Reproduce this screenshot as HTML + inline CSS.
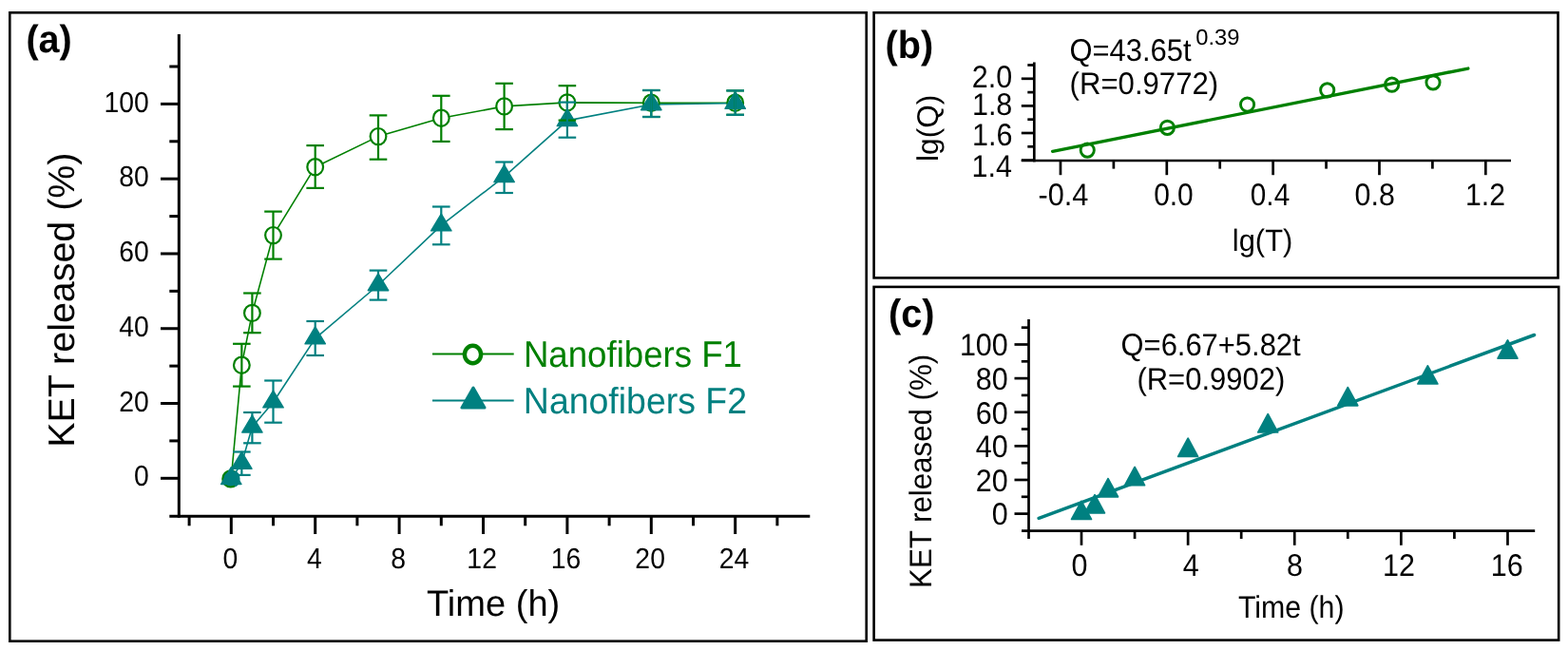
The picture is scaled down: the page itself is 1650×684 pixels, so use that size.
<!DOCTYPE html>
<html><head><meta charset="utf-8"><title>KET release figure</title>
<style>html,body{margin:0;padding:0;background:#fff;}svg{display:block;}</style>
</head><body>
<svg width="1650" height="684" viewBox="0 0 1650 684" font-family="&quot;Liberation Sans&quot;, Arial, Helvetica, sans-serif" text-rendering="geometricPrecision">
<rect x="0" y="0" width="1650" height="684" fill="#fff"/>
<rect x="10.30" y="13.30" width="901.40" height="661.40" fill="none" stroke="#000" stroke-width="2.6"/>
<rect x="919.60" y="13.30" width="719.90" height="279.10" fill="none" stroke="#000" stroke-width="2.6"/>
<rect x="919.60" y="301.90" width="720.60" height="371.70" fill="none" stroke="#000" stroke-width="2.6"/>
<line x1="188.30" y1="36.00" x2="188.30" y2="544.80" stroke="#000" stroke-width="3.0" stroke-linecap="butt"/>
<line x1="178.30" y1="543.30" x2="852.30" y2="543.30" stroke="#000" stroke-width="3.0" stroke-linecap="butt"/>
<line x1="169.00" y1="503.30" x2="188.30" y2="503.30" stroke="#000" stroke-width="3.0" stroke-linecap="butt"/>
<line x1="169.00" y1="424.52" x2="188.30" y2="424.52" stroke="#000" stroke-width="3.0" stroke-linecap="butt"/>
<line x1="169.00" y1="345.74" x2="188.30" y2="345.74" stroke="#000" stroke-width="3.0" stroke-linecap="butt"/>
<line x1="169.00" y1="266.96" x2="188.30" y2="266.96" stroke="#000" stroke-width="3.0" stroke-linecap="butt"/>
<line x1="169.00" y1="188.18" x2="188.30" y2="188.18" stroke="#000" stroke-width="3.0" stroke-linecap="butt"/>
<line x1="169.00" y1="109.40" x2="188.30" y2="109.40" stroke="#000" stroke-width="3.0" stroke-linecap="butt"/>
<line x1="178.30" y1="463.91" x2="188.30" y2="463.91" stroke="#000" stroke-width="3.0" stroke-linecap="butt"/>
<line x1="178.30" y1="385.13" x2="188.30" y2="385.13" stroke="#000" stroke-width="3.0" stroke-linecap="butt"/>
<line x1="178.30" y1="306.35" x2="188.30" y2="306.35" stroke="#000" stroke-width="3.0" stroke-linecap="butt"/>
<line x1="178.30" y1="227.57" x2="188.30" y2="227.57" stroke="#000" stroke-width="3.0" stroke-linecap="butt"/>
<line x1="178.30" y1="148.79" x2="188.30" y2="148.79" stroke="#000" stroke-width="3.0" stroke-linecap="butt"/>
<line x1="178.30" y1="70.01" x2="188.30" y2="70.01" stroke="#000" stroke-width="3.0" stroke-linecap="butt"/>
<line x1="243.30" y1="543.30" x2="243.30" y2="562.00" stroke="#000" stroke-width="3.0" stroke-linecap="butt"/>
<line x1="331.70" y1="543.30" x2="331.70" y2="562.00" stroke="#000" stroke-width="3.0" stroke-linecap="butt"/>
<line x1="420.10" y1="543.30" x2="420.10" y2="562.00" stroke="#000" stroke-width="3.0" stroke-linecap="butt"/>
<line x1="508.50" y1="543.30" x2="508.50" y2="562.00" stroke="#000" stroke-width="3.0" stroke-linecap="butt"/>
<line x1="596.90" y1="543.30" x2="596.90" y2="562.00" stroke="#000" stroke-width="3.0" stroke-linecap="butt"/>
<line x1="685.30" y1="543.30" x2="685.30" y2="562.00" stroke="#000" stroke-width="3.0" stroke-linecap="butt"/>
<line x1="773.70" y1="543.30" x2="773.70" y2="562.00" stroke="#000" stroke-width="3.0" stroke-linecap="butt"/>
<line x1="199.10" y1="543.30" x2="199.10" y2="553.30" stroke="#000" stroke-width="3.0" stroke-linecap="butt"/>
<line x1="287.50" y1="543.30" x2="287.50" y2="553.30" stroke="#000" stroke-width="3.0" stroke-linecap="butt"/>
<line x1="375.90" y1="543.30" x2="375.90" y2="553.30" stroke="#000" stroke-width="3.0" stroke-linecap="butt"/>
<line x1="464.30" y1="543.30" x2="464.30" y2="553.30" stroke="#000" stroke-width="3.0" stroke-linecap="butt"/>
<line x1="552.70" y1="543.30" x2="552.70" y2="553.30" stroke="#000" stroke-width="3.0" stroke-linecap="butt"/>
<line x1="641.10" y1="543.30" x2="641.10" y2="553.30" stroke="#000" stroke-width="3.0" stroke-linecap="butt"/>
<line x1="729.50" y1="543.30" x2="729.50" y2="553.30" stroke="#000" stroke-width="3.0" stroke-linecap="butt"/>
<line x1="817.90" y1="543.30" x2="817.90" y2="553.30" stroke="#000" stroke-width="3.0" stroke-linecap="butt"/>
<text transform="translate(140.93 511.45) scale(0.9330 1)" font-size="30.40" text-anchor="start" fill="#000">0</text>
<text transform="translate(125.16 432.67) scale(0.9330 1)" font-size="30.40" text-anchor="start" fill="#000">20</text>
<text transform="translate(125.16 353.89) scale(0.9330 1)" font-size="30.40" text-anchor="start" fill="#000">40</text>
<text transform="translate(125.16 275.11) scale(0.9330 1)" font-size="30.40" text-anchor="start" fill="#000">60</text>
<text transform="translate(125.16 196.33) scale(0.9330 1)" font-size="30.40" text-anchor="start" fill="#000">80</text>
<text transform="translate(109.39 117.55) scale(0.9330 1)" font-size="30.40" text-anchor="start" fill="#000">100</text>
<text transform="translate(234.41 597.60) scale(0.9330 1)" font-size="30.40" text-anchor="start" fill="#000">0</text>
<text transform="translate(322.90 597.60) scale(0.9330 1)" font-size="30.40" text-anchor="start" fill="#000">4</text>
<text transform="translate(411.21 597.60) scale(0.9330 1)" font-size="30.40" text-anchor="start" fill="#000">8</text>
<text transform="translate(491.36 597.60) scale(0.9330 1)" font-size="30.40" text-anchor="start" fill="#000">12</text>
<text transform="translate(579.67 597.60) scale(0.9330 1)" font-size="30.40" text-anchor="start" fill="#000">16</text>
<text transform="translate(668.37 597.60) scale(0.9330 1)" font-size="30.40" text-anchor="start" fill="#000">20</text>
<text transform="translate(756.63 597.60) scale(0.9330 1)" font-size="30.40" text-anchor="start" fill="#000">24</text>
<text transform="translate(448.94 648.10) scale(0.9889 1)" font-size="38.50" text-anchor="start" fill="#000">Time (h)</text>
<text transform="translate(77.85 470.73) rotate(-90) scale(1.0101 1)" font-size="39.00" text-anchor="start" fill="#000">KET released (%)</text>
<text transform="translate(27.43 55.30) scale(0.9742 1)" font-size="40.60" text-anchor="start" font-weight="bold" fill="#000">(a)</text>
<polyline fill="none" stroke="#008000" stroke-width="1.6" stroke-linejoin="round" points="243.30,503.30 254.35,384.20 265.40,329.40 287.50,247.60 331.70,175.70 398.00,143.60 464.30,124.20 530.60,111.90 596.90,107.90 685.30,108.20 773.70,108.20"/>
<polyline fill="none" stroke="#008080" stroke-width="1.6" stroke-linejoin="round" points="243.30,503.80 254.35,487.60 265.40,449.30 287.50,423.20 331.70,356.10 398.00,300.00 464.30,237.20 530.60,185.90 596.90,126.90 685.30,110.00 773.70,108.60"/>
<ellipse cx="242.70" cy="503.90" rx="8.35" ry="8.6" fill="#008080" stroke="#008000" stroke-width="2.2"/>
<path d="M246.90,496.40 A8.35,8.6 0 0 1 246.90,511.40" fill="none" stroke="#008080" stroke-width="2.8"/>
<ellipse cx="254.35" cy="384.20" rx="8.35" ry="8.6" fill="#fff" stroke="#008000" stroke-width="2.2"/>
<ellipse cx="265.40" cy="329.40" rx="8.35" ry="8.6" fill="#fff" stroke="#008000" stroke-width="2.2"/>
<ellipse cx="287.50" cy="247.60" rx="8.35" ry="8.6" fill="#fff" stroke="#008000" stroke-width="2.2"/>
<ellipse cx="331.70" cy="175.70" rx="8.35" ry="8.6" fill="#fff" stroke="#008000" stroke-width="2.2"/>
<ellipse cx="398.00" cy="143.60" rx="8.35" ry="8.6" fill="#fff" stroke="#008000" stroke-width="2.2"/>
<ellipse cx="464.30" cy="124.20" rx="8.35" ry="8.6" fill="#fff" stroke="#008000" stroke-width="2.2"/>
<ellipse cx="530.60" cy="111.90" rx="8.35" ry="8.6" fill="#fff" stroke="#008000" stroke-width="2.2"/>
<ellipse cx="596.90" cy="107.90" rx="8.35" ry="8.6" fill="#fff" stroke="#008000" stroke-width="2.2"/>
<ellipse cx="685.30" cy="108.20" rx="8.35" ry="8.6" fill="#fff" stroke="#008000" stroke-width="2.2"/>
<ellipse cx="773.70" cy="108.20" rx="8.35" ry="8.6" fill="#fff" stroke="#008000" stroke-width="2.2"/>
<polygon points="243.30,491.60 232.60,509.50 254.00,509.50" fill="#008080" stroke="#008080" stroke-width="1.4" stroke-linejoin="round"/>
<polygon points="254.35,475.40 243.65,493.30 265.05,493.30" fill="#008080" stroke="#008080" stroke-width="1.4" stroke-linejoin="round"/>
<polygon points="265.40,437.10 254.70,455.00 276.10,455.00" fill="#008080" stroke="#008080" stroke-width="1.4" stroke-linejoin="round"/>
<polygon points="287.50,411.00 276.80,428.90 298.20,428.90" fill="#008080" stroke="#008080" stroke-width="1.4" stroke-linejoin="round"/>
<polygon points="331.70,343.90 321.00,361.80 342.40,361.80" fill="#008080" stroke="#008080" stroke-width="1.4" stroke-linejoin="round"/>
<polygon points="398.00,287.80 387.30,305.70 408.70,305.70" fill="#008080" stroke="#008080" stroke-width="1.4" stroke-linejoin="round"/>
<polygon points="464.30,225.00 453.60,242.90 475.00,242.90" fill="#008080" stroke="#008080" stroke-width="1.4" stroke-linejoin="round"/>
<polygon points="530.60,173.70 519.90,191.60 541.30,191.60" fill="#008080" stroke="#008080" stroke-width="1.4" stroke-linejoin="round"/>
<polygon points="596.90,114.70 586.20,132.60 607.60,132.60" fill="#008080" stroke="#008080" stroke-width="1.4" stroke-linejoin="round"/>
<polygon points="685.30,97.80 674.60,115.70 696.00,115.70" fill="#008080" stroke="#008080" stroke-width="1.4" stroke-linejoin="round"/>
<polygon points="773.70,96.40 763.00,114.30 784.40,114.30" fill="#008080" stroke="#008080" stroke-width="1.4" stroke-linejoin="round"/>
<line x1="254.35" y1="361.80" x2="254.35" y2="406.60" stroke="#008000" stroke-width="2.2" stroke-linecap="butt"/>
<line x1="245.05" y1="361.80" x2="263.65" y2="361.80" stroke="#008000" stroke-width="2.2" stroke-linecap="butt"/>
<line x1="245.05" y1="406.60" x2="263.65" y2="406.60" stroke="#008000" stroke-width="2.2" stroke-linecap="butt"/>
<line x1="265.40" y1="308.50" x2="265.40" y2="350.20" stroke="#008000" stroke-width="2.2" stroke-linecap="butt"/>
<line x1="256.10" y1="308.50" x2="274.70" y2="308.50" stroke="#008000" stroke-width="2.2" stroke-linecap="butt"/>
<line x1="256.10" y1="350.20" x2="274.70" y2="350.20" stroke="#008000" stroke-width="2.2" stroke-linecap="butt"/>
<line x1="287.50" y1="222.60" x2="287.50" y2="272.60" stroke="#008000" stroke-width="2.2" stroke-linecap="butt"/>
<line x1="278.20" y1="222.60" x2="296.80" y2="222.60" stroke="#008000" stroke-width="2.2" stroke-linecap="butt"/>
<line x1="278.20" y1="272.60" x2="296.80" y2="272.60" stroke="#008000" stroke-width="2.2" stroke-linecap="butt"/>
<line x1="331.70" y1="153.10" x2="331.70" y2="197.90" stroke="#008000" stroke-width="2.2" stroke-linecap="butt"/>
<line x1="322.40" y1="153.10" x2="341.00" y2="153.10" stroke="#008000" stroke-width="2.2" stroke-linecap="butt"/>
<line x1="322.40" y1="197.90" x2="341.00" y2="197.90" stroke="#008000" stroke-width="2.2" stroke-linecap="butt"/>
<line x1="398.00" y1="121.40" x2="398.00" y2="167.70" stroke="#008000" stroke-width="2.2" stroke-linecap="butt"/>
<line x1="388.70" y1="121.40" x2="407.30" y2="121.40" stroke="#008000" stroke-width="2.2" stroke-linecap="butt"/>
<line x1="388.70" y1="167.70" x2="407.30" y2="167.70" stroke="#008000" stroke-width="2.2" stroke-linecap="butt"/>
<line x1="464.30" y1="100.80" x2="464.30" y2="148.90" stroke="#008000" stroke-width="2.2" stroke-linecap="butt"/>
<line x1="455.00" y1="100.80" x2="473.60" y2="100.80" stroke="#008000" stroke-width="2.2" stroke-linecap="butt"/>
<line x1="455.00" y1="148.90" x2="473.60" y2="148.90" stroke="#008000" stroke-width="2.2" stroke-linecap="butt"/>
<line x1="530.60" y1="87.80" x2="530.60" y2="136.10" stroke="#008000" stroke-width="2.2" stroke-linecap="butt"/>
<line x1="521.30" y1="87.80" x2="539.90" y2="87.80" stroke="#008000" stroke-width="2.2" stroke-linecap="butt"/>
<line x1="521.30" y1="136.10" x2="539.90" y2="136.10" stroke="#008000" stroke-width="2.2" stroke-linecap="butt"/>
<line x1="596.90" y1="90.20" x2="596.90" y2="126.60" stroke="#008000" stroke-width="2.2" stroke-linecap="butt"/>
<line x1="587.60" y1="90.20" x2="606.20" y2="90.20" stroke="#008000" stroke-width="2.2" stroke-linecap="butt"/>
<line x1="587.60" y1="126.60" x2="606.20" y2="126.60" stroke="#008000" stroke-width="2.2" stroke-linecap="butt"/>
<line x1="685.30" y1="95.00" x2="685.30" y2="123.00" stroke="#008000" stroke-width="2.2" stroke-linecap="butt"/>
<line x1="676.00" y1="95.00" x2="694.60" y2="95.00" stroke="#008000" stroke-width="2.2" stroke-linecap="butt"/>
<line x1="676.00" y1="123.00" x2="694.60" y2="123.00" stroke="#008000" stroke-width="2.2" stroke-linecap="butt"/>
<line x1="773.70" y1="95.40" x2="773.70" y2="120.80" stroke="#008000" stroke-width="2.2" stroke-linecap="butt"/>
<line x1="764.40" y1="95.40" x2="783.00" y2="95.40" stroke="#008000" stroke-width="2.2" stroke-linecap="butt"/>
<line x1="764.40" y1="120.80" x2="783.00" y2="120.80" stroke="#008000" stroke-width="2.2" stroke-linecap="butt"/>
<line x1="254.35" y1="475.50" x2="254.35" y2="499.90" stroke="#008080" stroke-width="2.2" stroke-linecap="butt"/>
<line x1="245.05" y1="475.50" x2="263.65" y2="475.50" stroke="#008080" stroke-width="2.2" stroke-linecap="butt"/>
<line x1="245.05" y1="499.90" x2="263.65" y2="499.90" stroke="#008080" stroke-width="2.2" stroke-linecap="butt"/>
<line x1="265.40" y1="434.00" x2="265.40" y2="466.30" stroke="#008080" stroke-width="2.2" stroke-linecap="butt"/>
<line x1="256.10" y1="434.00" x2="274.70" y2="434.00" stroke="#008080" stroke-width="2.2" stroke-linecap="butt"/>
<line x1="256.10" y1="466.30" x2="274.70" y2="466.30" stroke="#008080" stroke-width="2.2" stroke-linecap="butt"/>
<line x1="287.50" y1="400.50" x2="287.50" y2="444.70" stroke="#008080" stroke-width="2.2" stroke-linecap="butt"/>
<line x1="278.20" y1="400.50" x2="296.80" y2="400.50" stroke="#008080" stroke-width="2.2" stroke-linecap="butt"/>
<line x1="278.20" y1="444.70" x2="296.80" y2="444.70" stroke="#008080" stroke-width="2.2" stroke-linecap="butt"/>
<line x1="331.70" y1="338.00" x2="331.70" y2="374.00" stroke="#008080" stroke-width="2.2" stroke-linecap="butt"/>
<line x1="322.40" y1="338.00" x2="341.00" y2="338.00" stroke="#008080" stroke-width="2.2" stroke-linecap="butt"/>
<line x1="322.40" y1="374.00" x2="341.00" y2="374.00" stroke="#008080" stroke-width="2.2" stroke-linecap="butt"/>
<line x1="398.00" y1="284.60" x2="398.00" y2="315.60" stroke="#008080" stroke-width="2.2" stroke-linecap="butt"/>
<line x1="388.70" y1="284.60" x2="407.30" y2="284.60" stroke="#008080" stroke-width="2.2" stroke-linecap="butt"/>
<line x1="388.70" y1="315.60" x2="407.30" y2="315.60" stroke="#008080" stroke-width="2.2" stroke-linecap="butt"/>
<line x1="464.30" y1="217.50" x2="464.30" y2="257.30" stroke="#008080" stroke-width="2.2" stroke-linecap="butt"/>
<line x1="455.00" y1="217.50" x2="473.60" y2="217.50" stroke="#008080" stroke-width="2.2" stroke-linecap="butt"/>
<line x1="455.00" y1="257.30" x2="473.60" y2="257.30" stroke="#008080" stroke-width="2.2" stroke-linecap="butt"/>
<line x1="530.60" y1="170.50" x2="530.60" y2="203.00" stroke="#008080" stroke-width="2.2" stroke-linecap="butt"/>
<line x1="521.30" y1="170.50" x2="539.90" y2="170.50" stroke="#008080" stroke-width="2.2" stroke-linecap="butt"/>
<line x1="521.30" y1="203.00" x2="539.90" y2="203.00" stroke="#008080" stroke-width="2.2" stroke-linecap="butt"/>
<line x1="596.90" y1="107.60" x2="596.90" y2="144.70" stroke="#008080" stroke-width="2.2" stroke-linecap="butt"/>
<line x1="587.60" y1="107.60" x2="606.20" y2="107.60" stroke="#008080" stroke-width="2.2" stroke-linecap="butt"/>
<line x1="587.60" y1="144.70" x2="606.20" y2="144.70" stroke="#008080" stroke-width="2.2" stroke-linecap="butt"/>
<line x1="685.30" y1="95.00" x2="685.30" y2="123.00" stroke="#008080" stroke-width="2.2" stroke-linecap="butt"/>
<line x1="676.00" y1="95.00" x2="694.60" y2="95.00" stroke="#008080" stroke-width="2.2" stroke-linecap="butt"/>
<line x1="676.00" y1="123.00" x2="694.60" y2="123.00" stroke="#008080" stroke-width="2.2" stroke-linecap="butt"/>
<line x1="773.70" y1="95.40" x2="773.70" y2="120.80" stroke="#008080" stroke-width="2.2" stroke-linecap="butt"/>
<line x1="764.40" y1="95.40" x2="783.00" y2="95.40" stroke="#008080" stroke-width="2.2" stroke-linecap="butt"/>
<line x1="764.40" y1="120.80" x2="783.00" y2="120.80" stroke="#008080" stroke-width="2.2" stroke-linecap="butt"/>
<line x1="455.00" y1="372.40" x2="540.70" y2="372.40" stroke="#008000" stroke-width="2.0" stroke-linecap="butt"/>
<ellipse cx="497.50" cy="373.00" rx="8.6" ry="9.3" fill="#fff" stroke="#008000" stroke-width="4.4"/>
<line x1="455.00" y1="421.50" x2="540.70" y2="421.50" stroke="#008080" stroke-width="2.0" stroke-linecap="butt"/>
<polygon points="498.0,408.0 486.0,429.0 510.0,429.0" fill="#008080" stroke="#008080" stroke-width="3" stroke-linejoin="round"/>
<text transform="translate(550.89 386.05) scale(0.9442 1)" font-size="38.80" text-anchor="start" fill="#008000">Nanofibers F1</text>
<text transform="translate(550.83 434.75) scale(0.9654 1)" font-size="38.80" text-anchor="start" fill="#008080">Nanofibers F2</text>
<line x1="1088.30" y1="65.50" x2="1088.30" y2="170.35" stroke="#000" stroke-width="2.7" stroke-linecap="butt"/>
<line x1="1074.80" y1="169.00" x2="1590.00" y2="169.00" stroke="#000" stroke-width="2.7" stroke-linecap="butt"/>
<line x1="1074.80" y1="168.60" x2="1088.30" y2="168.60" stroke="#000" stroke-width="2.7" stroke-linecap="butt"/>
<line x1="1074.80" y1="140.00" x2="1088.30" y2="140.00" stroke="#000" stroke-width="2.7" stroke-linecap="butt"/>
<line x1="1074.80" y1="111.40" x2="1088.30" y2="111.40" stroke="#000" stroke-width="2.7" stroke-linecap="butt"/>
<line x1="1074.80" y1="82.80" x2="1088.30" y2="82.80" stroke="#000" stroke-width="2.7" stroke-linecap="butt"/>
<line x1="1081.30" y1="154.30" x2="1088.30" y2="154.30" stroke="#000" stroke-width="2.7" stroke-linecap="butt"/>
<line x1="1081.30" y1="125.70" x2="1088.30" y2="125.70" stroke="#000" stroke-width="2.7" stroke-linecap="butt"/>
<line x1="1081.30" y1="97.10" x2="1088.30" y2="97.10" stroke="#000" stroke-width="2.7" stroke-linecap="butt"/>
<line x1="1081.30" y1="68.50" x2="1088.30" y2="68.50" stroke="#000" stroke-width="2.7" stroke-linecap="butt"/>
<line x1="1115.96" y1="169.00" x2="1115.96" y2="184.20" stroke="#000" stroke-width="2.7" stroke-linecap="butt"/>
<line x1="1227.80" y1="169.00" x2="1227.80" y2="184.20" stroke="#000" stroke-width="2.7" stroke-linecap="butt"/>
<line x1="1339.64" y1="169.00" x2="1339.64" y2="184.20" stroke="#000" stroke-width="2.7" stroke-linecap="butt"/>
<line x1="1451.48" y1="169.00" x2="1451.48" y2="184.20" stroke="#000" stroke-width="2.7" stroke-linecap="butt"/>
<line x1="1563.32" y1="169.00" x2="1563.32" y2="184.20" stroke="#000" stroke-width="2.7" stroke-linecap="butt"/>
<line x1="1171.88" y1="169.00" x2="1171.88" y2="177.60" stroke="#000" stroke-width="2.7" stroke-linecap="butt"/>
<line x1="1283.72" y1="169.00" x2="1283.72" y2="177.60" stroke="#000" stroke-width="2.7" stroke-linecap="butt"/>
<line x1="1395.56" y1="169.00" x2="1395.56" y2="177.60" stroke="#000" stroke-width="2.7" stroke-linecap="butt"/>
<line x1="1507.40" y1="169.00" x2="1507.40" y2="177.60" stroke="#000" stroke-width="2.7" stroke-linecap="butt"/>
<text transform="translate(1022.79 91.55) scale(0.9300 1)" font-size="32.80" text-anchor="start" fill="#000">2.0</text>
<text transform="translate(1022.92 121.35) scale(0.9300 1)" font-size="32.80" text-anchor="start" fill="#000">1.8</text>
<text transform="translate(1022.94 153.45) scale(0.9300 1)" font-size="32.80" text-anchor="start" fill="#000">1.6</text>
<text transform="translate(1022.49 185.75) scale(0.9300 1)" font-size="32.80" text-anchor="start" fill="#000">1.4</text>
<text transform="translate(1092.44 216.40) scale(0.9353 1)" font-size="32.80" text-anchor="start" fill="#000">-0.4</text>
<text transform="translate(1214.13 216.40) scale(0.9132 1)" font-size="32.80" text-anchor="start" fill="#000">0.0</text>
<text transform="translate(1315.84 216.40) scale(0.9065 1)" font-size="32.80" text-anchor="start" fill="#000">0.4</text>
<text transform="translate(1425.61 216.40) scale(0.9256 1)" font-size="32.80" text-anchor="start" fill="#000">0.8</text>
<text transform="translate(1542.00 216.40) scale(0.9192 1)" font-size="32.80" text-anchor="start" fill="#000">1.2</text>
<text transform="translate(1296.82 263.80) scale(0.9565 1)" font-size="32.30" text-anchor="start" fill="#000">lg(T)</text>
<text transform="translate(987.40 169.93) rotate(-90) scale(1.0059 1)" font-size="31.40" text-anchor="start" fill="#000">lg(Q)</text>
<text transform="translate(931.52 60.50) scale(0.9771 1)" font-size="40.60" text-anchor="start" font-weight="bold" fill="#000">(b)</text>
<text transform="translate(1125.44 63.50) scale(0.9428 1)" font-size="32.80" text-anchor="start" fill="#000">Q=43.65t</text>
<text transform="translate(1258.17 47.00) scale(1.0200 1)" font-size="23.30" text-anchor="start" fill="#000">0.39</text>
<text transform="translate(1125.57 98.70) scale(0.9488 1)" font-size="32.80" text-anchor="start" fill="#000">(R=0.9772)</text>
<line x1="1107.57" y1="159.26" x2="1544.87" y2="72.04" stroke="#008000" stroke-width="3.3" stroke-linecap="round"/>
<circle cx="1144.24" cy="158.09" r="7.1" fill="none" stroke="#008000" stroke-width="2.9"/>
<circle cx="1228.40" cy="134.35" r="7.1" fill="none" stroke="#008000" stroke-width="2.9"/>
<circle cx="1312.56" cy="110.04" r="7.1" fill="none" stroke="#008000" stroke-width="2.9"/>
<circle cx="1396.72" cy="94.88" r="7.1" fill="none" stroke="#008000" stroke-width="2.9"/>
<circle cx="1464.66" cy="89.16" r="7.1" fill="none" stroke="#008000" stroke-width="2.9"/>
<circle cx="1508.00" cy="86.87" r="7.1" fill="none" stroke="#008000" stroke-width="2.9"/>
<line x1="1082.50" y1="336.00" x2="1082.50" y2="567.00" stroke="#000" stroke-width="2.7" stroke-linecap="butt"/>
<line x1="1075.00" y1="558.60" x2="1615.20" y2="558.60" stroke="#000" stroke-width="2.7" stroke-linecap="butt"/>
<line x1="1067.50" y1="540.60" x2="1082.50" y2="540.60" stroke="#000" stroke-width="2.7" stroke-linecap="butt"/>
<line x1="1067.50" y1="504.98" x2="1082.50" y2="504.98" stroke="#000" stroke-width="2.7" stroke-linecap="butt"/>
<line x1="1067.50" y1="469.36" x2="1082.50" y2="469.36" stroke="#000" stroke-width="2.7" stroke-linecap="butt"/>
<line x1="1067.50" y1="433.74" x2="1082.50" y2="433.74" stroke="#000" stroke-width="2.7" stroke-linecap="butt"/>
<line x1="1067.50" y1="398.12" x2="1082.50" y2="398.12" stroke="#000" stroke-width="2.7" stroke-linecap="butt"/>
<line x1="1067.50" y1="362.50" x2="1082.50" y2="362.50" stroke="#000" stroke-width="2.7" stroke-linecap="butt"/>
<line x1="1074.80" y1="522.79" x2="1082.50" y2="522.79" stroke="#000" stroke-width="2.7" stroke-linecap="butt"/>
<line x1="1074.80" y1="487.17" x2="1082.50" y2="487.17" stroke="#000" stroke-width="2.7" stroke-linecap="butt"/>
<line x1="1074.80" y1="451.55" x2="1082.50" y2="451.55" stroke="#000" stroke-width="2.7" stroke-linecap="butt"/>
<line x1="1074.80" y1="415.93" x2="1082.50" y2="415.93" stroke="#000" stroke-width="2.7" stroke-linecap="butt"/>
<line x1="1074.80" y1="380.31" x2="1082.50" y2="380.31" stroke="#000" stroke-width="2.7" stroke-linecap="butt"/>
<line x1="1074.80" y1="344.69" x2="1082.50" y2="344.69" stroke="#000" stroke-width="2.7" stroke-linecap="butt"/>
<line x1="1138.00" y1="558.60" x2="1138.00" y2="573.80" stroke="#000" stroke-width="2.7" stroke-linecap="butt"/>
<line x1="1250.12" y1="558.60" x2="1250.12" y2="573.80" stroke="#000" stroke-width="2.7" stroke-linecap="butt"/>
<line x1="1362.24" y1="558.60" x2="1362.24" y2="573.80" stroke="#000" stroke-width="2.7" stroke-linecap="butt"/>
<line x1="1474.36" y1="558.60" x2="1474.36" y2="573.80" stroke="#000" stroke-width="2.7" stroke-linecap="butt"/>
<line x1="1586.48" y1="558.60" x2="1586.48" y2="573.80" stroke="#000" stroke-width="2.7" stroke-linecap="butt"/>
<line x1="1194.06" y1="558.60" x2="1194.06" y2="567.00" stroke="#000" stroke-width="2.7" stroke-linecap="butt"/>
<line x1="1306.18" y1="558.60" x2="1306.18" y2="567.00" stroke="#000" stroke-width="2.7" stroke-linecap="butt"/>
<line x1="1418.30" y1="558.60" x2="1418.30" y2="567.00" stroke="#000" stroke-width="2.7" stroke-linecap="butt"/>
<line x1="1530.42" y1="558.60" x2="1530.42" y2="567.00" stroke="#000" stroke-width="2.7" stroke-linecap="butt"/>
<text transform="translate(1043.83 552.40) scale(0.9300 1)" font-size="32.80" text-anchor="start" fill="#000">0</text>
<text transform="translate(1026.86 516.78) scale(0.9300 1)" font-size="32.80" text-anchor="start" fill="#000">20</text>
<text transform="translate(1026.86 481.16) scale(0.9300 1)" font-size="32.80" text-anchor="start" fill="#000">40</text>
<text transform="translate(1026.86 445.54) scale(0.9300 1)" font-size="32.80" text-anchor="start" fill="#000">60</text>
<text transform="translate(1026.86 409.92) scale(0.9300 1)" font-size="32.80" text-anchor="start" fill="#000">80</text>
<text transform="translate(1009.90 374.30) scale(0.9300 1)" font-size="32.80" text-anchor="start" fill="#000">100</text>
<text transform="translate(1127.57 606.40) scale(0.9300 1)" font-size="32.80" text-anchor="start" fill="#000">0</text>
<text transform="translate(1244.86 606.40) scale(0.9300 1)" font-size="32.80" text-anchor="start" fill="#000">4</text>
<text transform="translate(1353.97 606.40) scale(0.9300 1)" font-size="32.80" text-anchor="start" fill="#000">8</text>
<text transform="translate(1454.94 606.40) scale(0.9300 1)" font-size="32.80" text-anchor="start" fill="#000">12</text>
<text transform="translate(1568.84 606.40) scale(0.9300 1)" font-size="32.80" text-anchor="start" fill="#000">16</text>
<text transform="translate(1302.92 649.60) scale(0.9236 1)" font-size="32.80" text-anchor="start" fill="#000">Time (h)</text>
<text transform="translate(980.30 618.97) rotate(-90) scale(0.9535 1)" font-size="32.80" text-anchor="start" fill="#000">KET released (%)</text>
<text transform="translate(935.03 344.00) scale(0.9552 1)" font-size="41.50" text-anchor="start" font-weight="bold" fill="#000">(c)</text>
<text transform="translate(1179.54 373.70) scale(0.9426 1)" font-size="32.80" text-anchor="start" fill="#000">Q=6.67+5.82t</text>
<text transform="translate(1196.38 409.70) scale(0.9451 1)" font-size="32.80" text-anchor="start" fill="#000">(R=0.9902)</text>
<line x1="1093.15" y1="545.31" x2="1614.51" y2="352.51" stroke="#008080" stroke-width="3.5" stroke-linecap="round"/>
<polygon points="1138.00,527.34 1127.60,546.44 1148.40,546.44" fill="#008080" stroke="#008080" stroke-width="1.8" stroke-linejoin="round"/>
<polygon points="1152.02,520.75 1141.62,539.85 1162.42,539.85" fill="#008080" stroke="#008080" stroke-width="1.8" stroke-linejoin="round"/>
<polygon points="1166.03,503.66 1155.63,522.76 1176.43,522.76" fill="#008080" stroke="#008080" stroke-width="1.8" stroke-linejoin="round"/>
<polygon points="1194.06,491.55 1183.66,510.65 1204.46,510.65" fill="#008080" stroke="#008080" stroke-width="1.8" stroke-linejoin="round"/>
<polygon points="1250.12,461.27 1239.72,480.37 1260.52,480.37" fill="#008080" stroke="#008080" stroke-width="1.8" stroke-linejoin="round"/>
<polygon points="1334.21,435.80 1323.81,454.90 1344.61,454.90" fill="#008080" stroke="#008080" stroke-width="1.8" stroke-linejoin="round"/>
<polygon points="1418.30,407.66 1407.90,426.76 1428.70,426.76" fill="#008080" stroke="#008080" stroke-width="1.8" stroke-linejoin="round"/>
<polygon points="1502.39,384.86 1491.99,403.96 1512.79,403.96" fill="#008080" stroke="#008080" stroke-width="1.8" stroke-linejoin="round"/>
<polygon points="1586.48,357.97 1576.08,377.07 1596.88,377.07" fill="#008080" stroke="#008080" stroke-width="1.8" stroke-linejoin="round"/>
</svg>
</body></html>
